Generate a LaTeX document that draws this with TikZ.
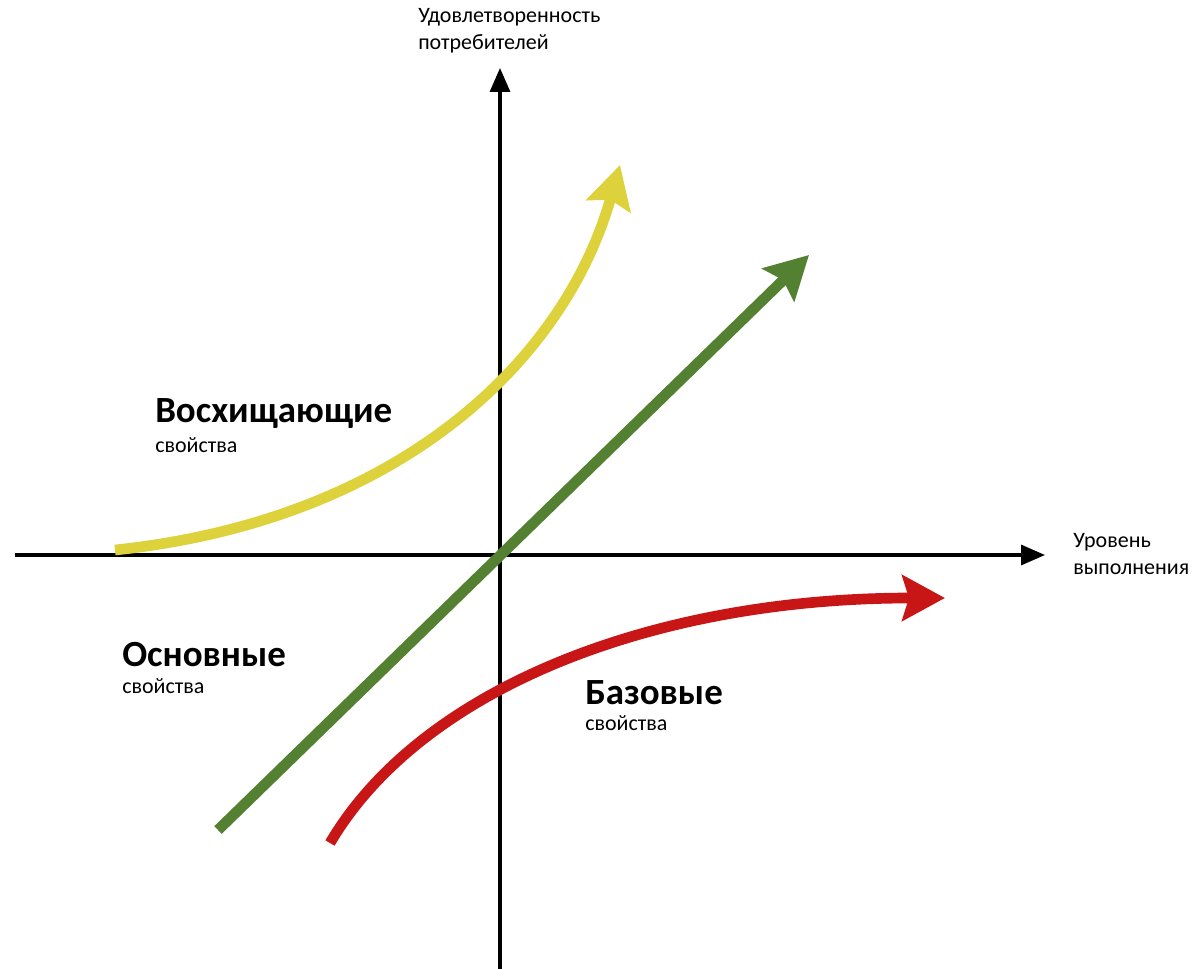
\documentclass[tikz,border=0pt]{standalone}
\usepackage{fontspec}
\setmainfont{Carlito}
\usetikzlibrary{arrows.meta}
\definecolor{cyellow}{RGB}{222,210,60}
\definecolor{cgreen}{RGB}{84,128,50}
\definecolor{cred}{RGB}{200,22,22}
\tikzset{
  axis/.style={line width=2.4pt,-{Triangle[length=18pt,width=15pt]}},
  curve/.style={line width=8pt,-{Stealth[length=32pt,width=34pt,inset=5pt]}},
  big/.style={font=\fontsize{27.7}{32}\selectfont\bfseries,anchor=west,inner sep=0pt},
  small/.style={font=\fontsize{16.5}{19}\selectfont,anchor=west,inner sep=0pt},
  axlab/.style={font=\fontsize{16.5}{20}\selectfont,anchor=west,inner sep=0pt,align=left},
}
\begin{document}
\begin{tikzpicture}[x=0.75pt,y=-0.75pt]
\useasboundingbox[fill=white] (0,0) rectangle (1195,969);
% axes
\coordinate (xs) at (15,555);
\coordinate (xe) at (1045,555);
\coordinate (ys) at (500,969);
\coordinate (ye) at (500,68);
\draw[axis] (xs) -- (xe);
\draw[axis] (ys) -- (ye);
% curves
\coordinate (ya) at (115,550);
\coordinate (yb) at (620,165);
\draw[curve,cyellow] (ya) .. controls (400,520) and (565,360) .. (yb);
\coordinate (ga) at (218,830);
\coordinate (gb) at (809,255);
\draw[curve,cgreen] (ga) -- (gb);
\coordinate (ra) at (330,843);
\coordinate (rb) at (945,598);
\draw[curve,cred] (ra) .. controls (420,690) and (650,598) .. (rb);
% axis labels
\node[axlab] (ylab1) at (418,17) {Удовлетворенность};
\node[axlab] (ylab2) at (418,44) {потребителей};
\node[axlab] (xlab1) at (1073,542) {Уровень};
\node[axlab] (xlab2) at (1073,569) {выполнения};
% region labels
\node[big] (l1) at (155,414) {Восхищающие};
\node[small] (s1) at (155,445) {свойства};
\node[big] (l2) at (122,655) {Основные};
\node[small] (s2) at (122,686) {свойства};
\node[big] (l3) at (585,693) {Базовые};
\node[small] (s3) at (585,723) {свойства};
\end{tikzpicture}
\end{document}
